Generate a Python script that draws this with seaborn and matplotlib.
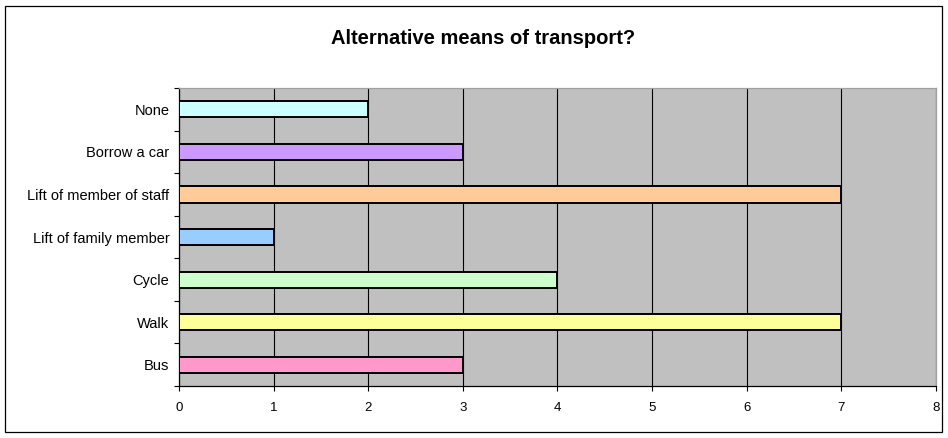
import pandas as pd
import seaborn as sns
import matplotlib.pyplot as plt
import matplotlib.patches as patches
from matplotlib.ticker import FixedLocator

# Chart data
categories = ["None", "Borrow a car", "Lift of member of staff", "Lift of family member",
              "Cycle", "Walk", "Bus"]
counts = [2, 3, 7, 1, 4, 7, 3]
bar_colors = ["#CCFFFF", "#CC99FF", "#FFCC99", "#99CCFF", "#CCFFCC", "#FFFF99", "#FF99CC"]
x_ticks = [0, 1, 2, 3, 4, 5, 6, 7, 8]

df = pd.DataFrame({"option": categories, "count": counts})

sns.set_style("white")
plt.rcParams['font.family'] = ['Liberation Sans', 'DejaVu Sans']
plt.rcParams['text.color'] = 'black'

fig = plt.figure(figsize=(9.48, 4.38), dpi=100)
ax = fig.add_axes([0.1888, 0.1187, 0.7985, 0.6803])

sns.barplot(data=df, x="count", y="option", order=categories, hue="option",
            palette=dict(zip(categories, bar_colors)), legend=False, saturation=1,
            width=0.38, edgecolor="black", linewidth=1.4, ax=ax, zorder=3)

ax.set_facecolor("#C0C0C0")
ax.set_xlim(0, 8)
ax.set_ylim(len(categories) - 0.5, -0.5)
ax.set_xticks(x_ticks)
ax.xaxis.grid(True, color="black", linewidth=0.8, zorder=1)
ax.set_axisbelow(True)
ax.set_xlabel("")
ax.set_ylabel("")

ax.tick_params(axis="x", bottom=True, direction="out", length=3.5, width=0.8, color="black",
               labelsize=9.5, labelcolor="black", pad=8)
ax.tick_params(axis="y", which="major", left=False, length=0, labelsize=10.5,
               labelcolor="black", pad=7)
ax.yaxis.set_minor_locator(FixedLocator([i + 0.5 for i in range(-1, len(categories))]))
ax.tick_params(axis="y", which="minor", left=True, direction="out", length=3.5, width=0.8,
               color="black")

for side in ["left", "bottom"]:
    ax.spines[side].set_color("black")
    ax.spines[side].set_linewidth(0.9)
for side in ["top", "right"]:
    ax.spines[side].set_color("#A0A0A0")
    ax.spines[side].set_linewidth(0.9)

fig.text(483 / 948, 0.913, "Alternative means of transport?", ha="center", va="center",
         fontsize=14.5, fontweight="bold", color="black")

# Outer chart border
border = patches.Rectangle((5 / 948, 6 / 438), 937 / 948, 426 / 438, transform=fig.transFigure,
                           fill=False, edgecolor="black", linewidth=0.9)
fig.patches.append(border)

fig.savefig("out.png", dpi=100, facecolor="white")
